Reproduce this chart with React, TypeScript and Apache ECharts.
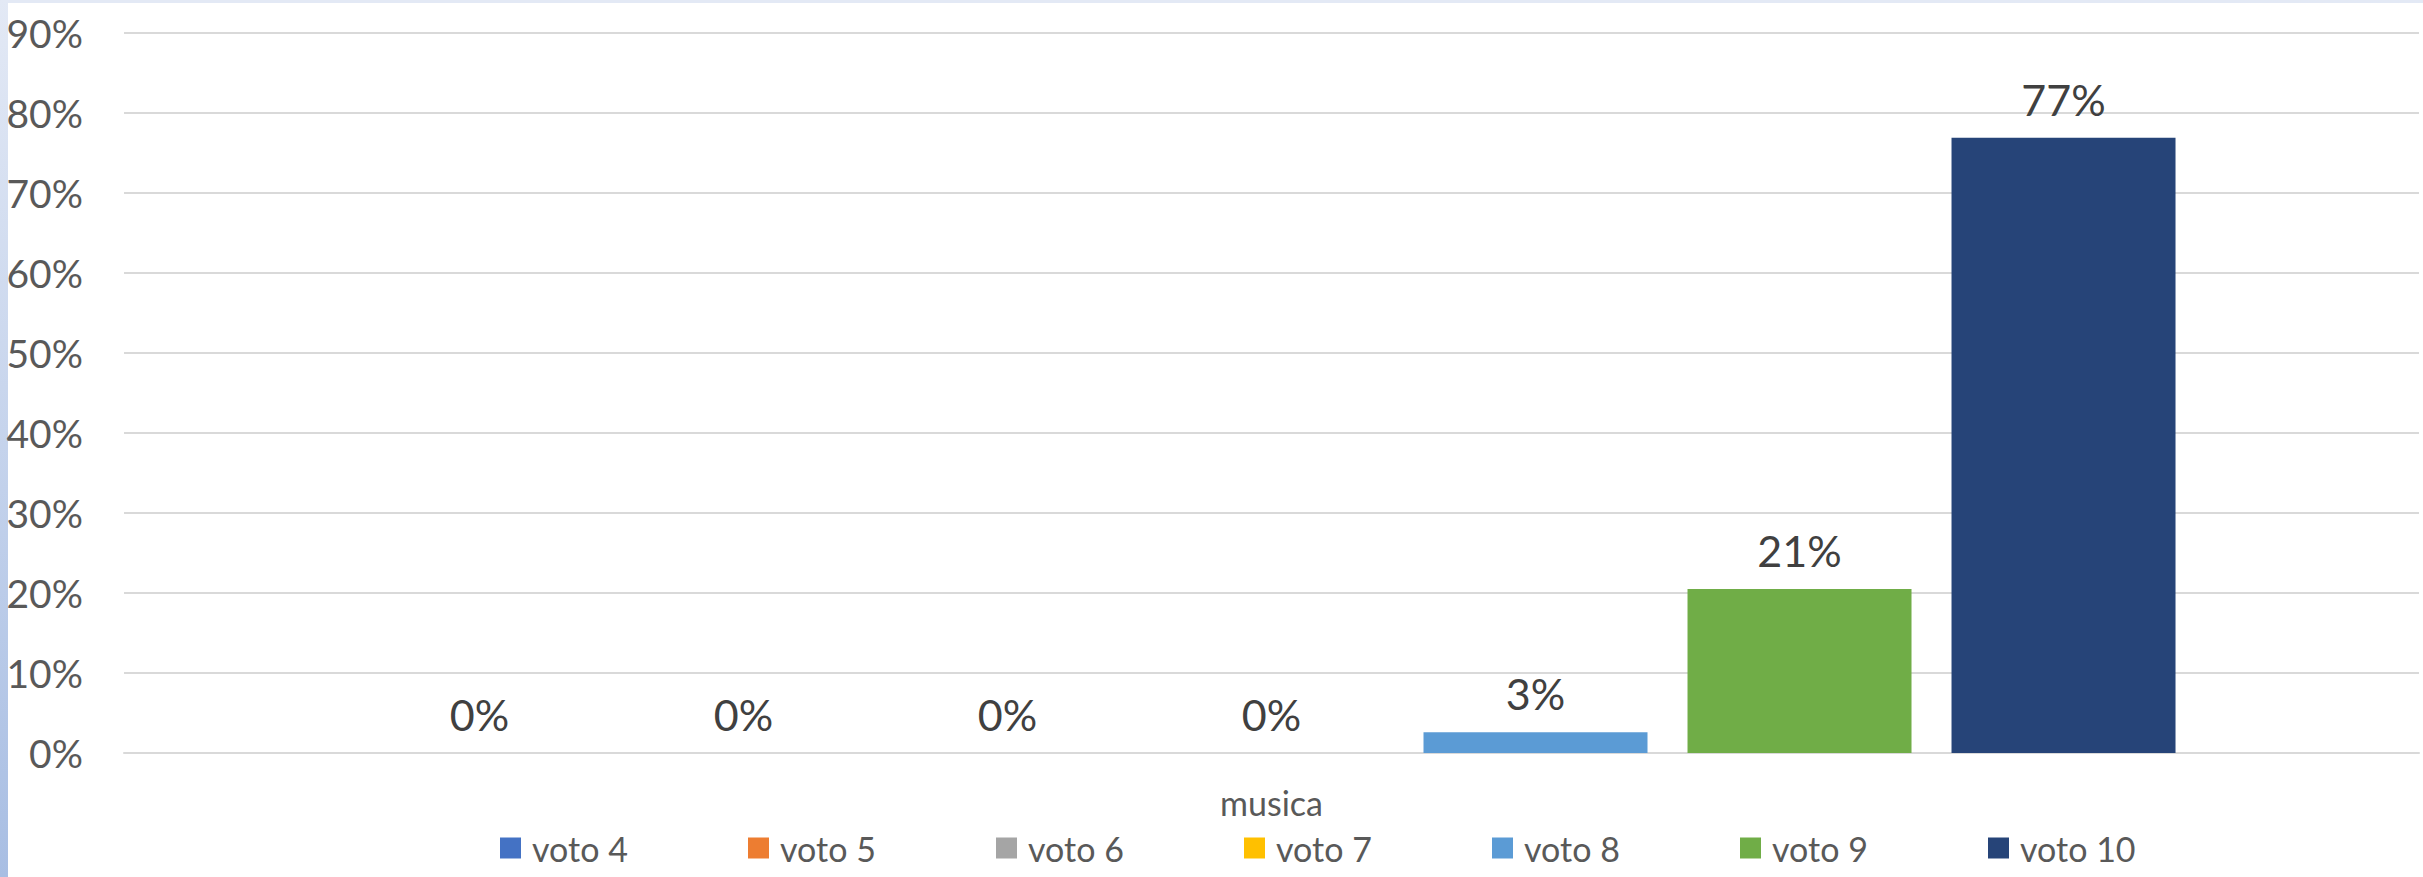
import React, { useEffect, useRef } from "react";
import * as echarts from "echarts";

const categories = ["musica"];
const seriesNames = ["voto 4", "voto 5", "voto 6", "voto 7", "voto 8", "voto 9", "voto 10"];
const seriesValues = [0, 0, 0, 0, 2.6, 20.5, 76.9];
const seriesColors = ["#4472C4", "#ED7D31", "#A5A5A5", "#FFC000", "#5B9BD5", "#70AD47", "#264478"];
const yTicks = { min: 0, max: 90, interval: 10 };

export default function App() {
  const ref = useRef<HTMLDivElement>(null);
  useEffect(() => {
    if (!ref.current) return;
    const chart = echarts.init(ref.current, undefined, { renderer: "svg" });
    const font = "Lato, 'Noto Sans', sans-serif";
    const series = seriesNames.map((name, i) => ({
      name,
      type: "bar",
      data: [seriesValues[i]],
      barWidth: 224,
      barGap: "17.86%",
      itemStyle: { color: seriesColors[i] },
      label: {
        show: true,
        position: "top",
        distance: 17,
        fontFamily: font,
        fontSize: 43,
        color: "#404040",
        formatter: (p: any) => Math.round(p.value) + "%",
      },
    }));
    const legends = seriesNames.map((name, i) => ({
      data: [name],
      left: 495 + i * 248,
      top: 826,
      itemWidth: 21,
      itemHeight: 21,
      icon: "rect",
      textStyle: {
        fontFamily: font,
        fontSize: 34,
        color: "#595959",
        padding: [0, 0, 0, 6],
      },
    }));
    chart.setOption({
      animation: false,
      backgroundColor: "#ffffff",
      graphic: [
        {
          type: "rect",
          shape: { x: 0, y: 0, width: 2423, height: 3 },
          style: { fill: "#E3E9F5" },
          silent: true,
        },
        {
          type: "rect",
          shape: { x: 0, y: 0, width: 8, height: 877 },
          style: {
            fill: new echarts.graphic.LinearGradient(0, 0, 0, 1, [
              { offset: 0, color: "#E3E9F5" },
              { offset: 1, color: "#A8BEE3" },
            ]),
          },
          silent: true,
        },
      ],
      grid: { left: 124, right: 4, top: 33, bottom: 124, containLabel: false },
      legend: legends,
      xAxis: {
        type: "category",
        data: categories,
        axisLine: { show: true, lineStyle: { color: "#D9D9D9", width: 2 } },
        axisTick: { show: false },
        axisLabel: {
          fontFamily: font,
          fontSize: 34,
          color: "#595959",
          margin: 32,
        },
      },
      yAxis: {
        type: "value",
        min: yTicks.min,
        max: yTicks.max,
        interval: yTicks.interval,
        axisLine: { show: false },
        axisTick: { show: false },
        splitLine: { lineStyle: { color: "#D9D9D9", width: 2 } },
        axisLabel: {
          fontFamily: font,
          fontSize: 39,
          color: "#595959",
          margin: 41,
          formatter: (v: number) => v + "%",
        },
      },
      series,
    });
    return () => chart.dispose();
  }, []);
  return (
    <div
      ref={ref}
      style={{ position: "fixed", left: 0, top: 0, width: 2423, height: 877, background: "#fff" }}
    />
  );
}
